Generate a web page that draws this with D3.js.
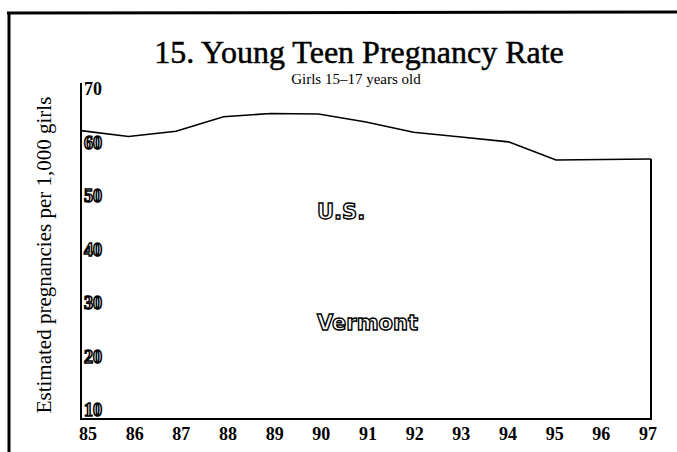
<!DOCTYPE html>
<html>
<head>
<meta charset="utf-8">
<script src="https://cdn.jsdelivr.net/npm/d3@7"></script>
<style>
	body { margin: 0; background: #fff; }
	svg { display: block; }
</style>
</head>
<body>
<div id="chart-area"></div>
<script>
/*
*    Young teen pregnancy rate, girls 15-17
*/

var years = [85, 86, 87, 88, 89, 90, 91, 92, 93, 94, 95, 96, 97];
var usRate = [63.9, 62.8, 63.8, 66.5, 67.1, 67.0, 65.5, 63.6, 62.7, 61.8, 58.4, 58.5, 58.6];
var yTicks = [70, 60, 50, 40, 30, 20, 10];
var seriesLabels = ["U.S.", "Vermont"];

var width = 677;
var height = 452;

var svg = d3.select("#chart-area")
.append("svg")
	.attr("width", width)
	.attr("height", height);

var serif = "'Liberation Serif', 'DejaVu Serif', serif";

	// frame (scan border, top and left only)
svg.append("line")
	.attr("x1", 7).attr("x2", width)
	.attr("y1", 13).attr("y2", 12)
	.attr("stroke", "#000")
	.attr("stroke-width", 3);
svg.append("line")
	.attr("x1", 9).attr("x2", 9)
	.attr("y1", 12).attr("y2", height)
	.attr("stroke", "#000")
	.attr("stroke-width", 3);

	// X scale
var x = d3.scaleLinear()
	.domain([85, 97])
	.range([81, 651]);

	// X label positions (labels sit a little off the data positions)
var xLab = d3.scaleLinear()
	.domain([85, 97])
	.range([88, 648]);

	// Y scale
var y = d3.scaleLinear()
	.domain([10, 70])
	.range([419, 98]);

	// Title
svg.append("text")
	.attr("x", 359)
	.attr("y", 63)
	.attr("text-anchor", "middle")
	.attr("font-family", serif)
	.attr("font-size", "32px")
	.attr("stroke", "#000")
	.attr("stroke-width", 0.5)
	.text("15. Young Teen Pregnancy Rate");

svg.append("text")
	.attr("x", 356)
	.attr("y", 84)
	.attr("text-anchor", "middle")
	.attr("font-family", serif)
	.attr("font-size", "15px")
	.text("Girls 15\u201317 years old");

	// Y label
svg.append("text")
	.attr("transform", "translate(51, 255) rotate(-90)")
	.attr("text-anchor", "middle")
	.attr("font-family", serif)
	.attr("font-size", "21px")
	.text("Estimated pregnancies per 1,000 girls");

	// Axes
svg.append("line")
	.attr("x1", x(85)).attr("x2", x(85))
	.attr("y1", 83).attr("y2", y(10))
	.attr("stroke", "#000")
	.attr("stroke-width", 2);
svg.append("line")
	.attr("x1", x(85) - 1).attr("x2", x(97) + 1)
	.attr("y1", y(10)).attr("y2", y(10))
	.attr("stroke", "#000")
	.attr("stroke-width", 2);

	// Y tick labels (inside the axis, just above each value)
svg.selectAll(".ytick")
	.data(yTicks)
	.enter()
	.append("text")
		.attr("class", "ytick")
		.attr("x", 84)
		.attr("y", function(d){ return y(d) - 3; })
		.attr("font-family", serif)
		.attr("font-size", "18px")
		.attr("font-weight", "bold")
		.attr("fill", function(d){ return d == 70 ? "#000" : "#fff"; })
		.attr("stroke", function(d){ return d == 70 ? "none" : "#000"; })
		.attr("stroke-width", 1.5)
		.text(function(d){ return d; });

	// X tick labels
svg.selectAll(".xtick")
	.data(years)
	.enter()
	.append("text")
		.attr("class", "xtick")
		.attr("x", function(d){ return xLab(d); })
		.attr("y", 440)
		.attr("text-anchor", "middle")
		.attr("font-family", serif)
		.attr("font-size", "18px")
		.attr("font-weight", "bold")
		.text(function(d){ return d; });

	// U.S. line
var line = d3.line()
	.x(function(d, i){ return x(years[i]); })
	.y(function(d){ return y(d); });

svg.append("path")
	.datum(usRate)
	.attr("d", line)
	.attr("fill", "none")
	.attr("stroke", "#000")
	.attr("stroke-width", 1.6);

	// right edge drop at 97
svg.append("line")
	.attr("x1", x(97)).attr("x2", x(97))
	.attr("y1", y(usRate[usRate.length - 1])).attr("y2", y(10))
	.attr("stroke", "#000")
	.attr("stroke-width", 2);

	// Series labels (outlined)
var labelPos = [219, 330];
seriesLabels.forEach(function(label, i){
	svg.append("text")
		.attr("x", 317)
		.attr("y", labelPos[i])
		.attr("font-family", "'DejaVu Sans', sans-serif")
		.attr("font-size", "21px")
		.attr("font-weight", "bold")
		.attr("fill", "#fff")
		.attr("stroke", "#000")
		.attr("stroke-width", 1.4)
		.text(label);
});
</script>
</body>
</html>
